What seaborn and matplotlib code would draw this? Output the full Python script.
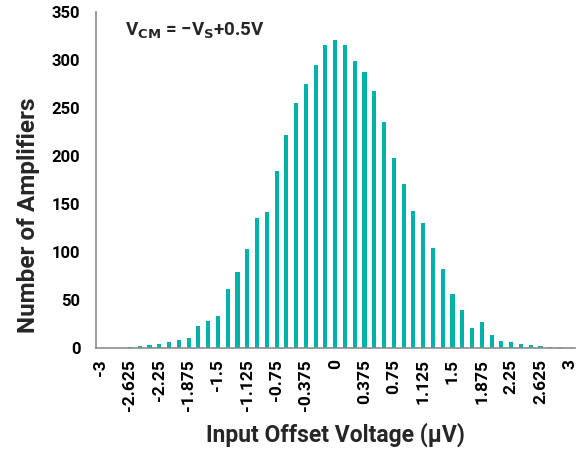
import numpy as np
import pandas as pd
import matplotlib
matplotlib.use("Agg")
import matplotlib.pyplot as plt
import seaborn as sns

# ---- data ----
bin_centers = [round(-3 + 0.125 * i, 3) for i in range(49)]
counts = [0, 0, 0, 1, 2, 3.5, 4.5, 6.6, 8.7, 10.8, 22.6, 27.8, 33.7, 61.5, 79.5,
          102.8, 135.4, 141.7, 183.7, 221.9, 254.5, 275.3, 294.4, 315.6, 320.5,
          315.6, 298.6, 287.8, 267.7, 235.4, 197.6, 170.8, 142.7, 130.5, 104.5,
          82.6, 56.6, 39.6, 20.5, 26.7, 13.5, 7.6, 6.6, 4.5, 3.5, 2.4, 1.4, 1.0, 0]
xtick_labels = ["-3", "-2.625", "-2.25", "-1.875", "-1.5", "-1.125", "-0.75", "-0.375",
                "0", "0.375", "0.75", "1.125", "1.5", "1.875", "2.25", "2.625", "3"]
yticks = [0, 50, 100, 150, 200, 250, 300, 350]

df = pd.DataFrame({"bin": [str(b) for b in bin_centers], "count": counts})

sns.set_theme(style="white")
plt.rcParams["font.family"] = ["Roboto", "DejaVu Sans"]
plt.rcParams["font.weight"] = "bold"
plt.rcParams["mathtext.default"] = "regular"

fig = plt.figure(figsize=(5.84, 4.53), dpi=100)
ax = fig.add_axes([0.164, 0.232, 0.82, 0.742])

teal = "#00B3AA"
sns.barplot(data=df, x="bin", y="count", color=teal, width=0.42, ax=ax,
            saturation=1, edgecolor="none")

ax.set_xlim(-0.5, len(bin_centers) - 0.5)
ax.set_ylim(0, 350)
ax.set_yticks(yticks)
ax.set_yticklabels([str(v) for v in yticks], fontsize=12, fontweight="bold")

ax.set_xticks(range(0, len(bin_centers), 3))
ax.set_xticklabels(xtick_labels, rotation=90, fontsize=12.5, fontweight="bold")
ax.set_xticks(np.arange(-0.5, len(bin_centers), 1), minor=True)

gray = "#8C8C8C"
for s in ["top", "right"]:
    ax.spines[s].set_visible(False)
for s in ["left", "bottom"]:
    ax.spines[s].set_color(gray)
    ax.spines[s].set_linewidth(1.2)

ax.tick_params(axis="x", which="major", length=0, pad=8, colors="black")
ax.tick_params(axis="x", which="minor", length=6, width=1.2, color=gray, direction="out")
ax.tick_params(axis="y", which="major", length=5, width=1.2, color=gray, direction="out",
               labelcolor="black", pad=6)

ax.set_xlabel("Input Offset Voltage (µV)", fontsize=16.5, fontweight="bold")
ax.set_ylabel("Number of Amplifiers", fontsize=17.5, fontweight="bold")
ax.xaxis.set_label_coords(0.5, -0.222)
ax.yaxis.set_label_coords(-0.117, 0.396)

ax.text(0.06, 0.945, r"V$_{\mathbf{CM}}$ = −V$_{\mathbf{S}}$+0.5V",
        transform=ax.transAxes, fontsize=13.5, fontweight="bold", va="center", ha="left")

fig.savefig("out.png", dpi=100)
